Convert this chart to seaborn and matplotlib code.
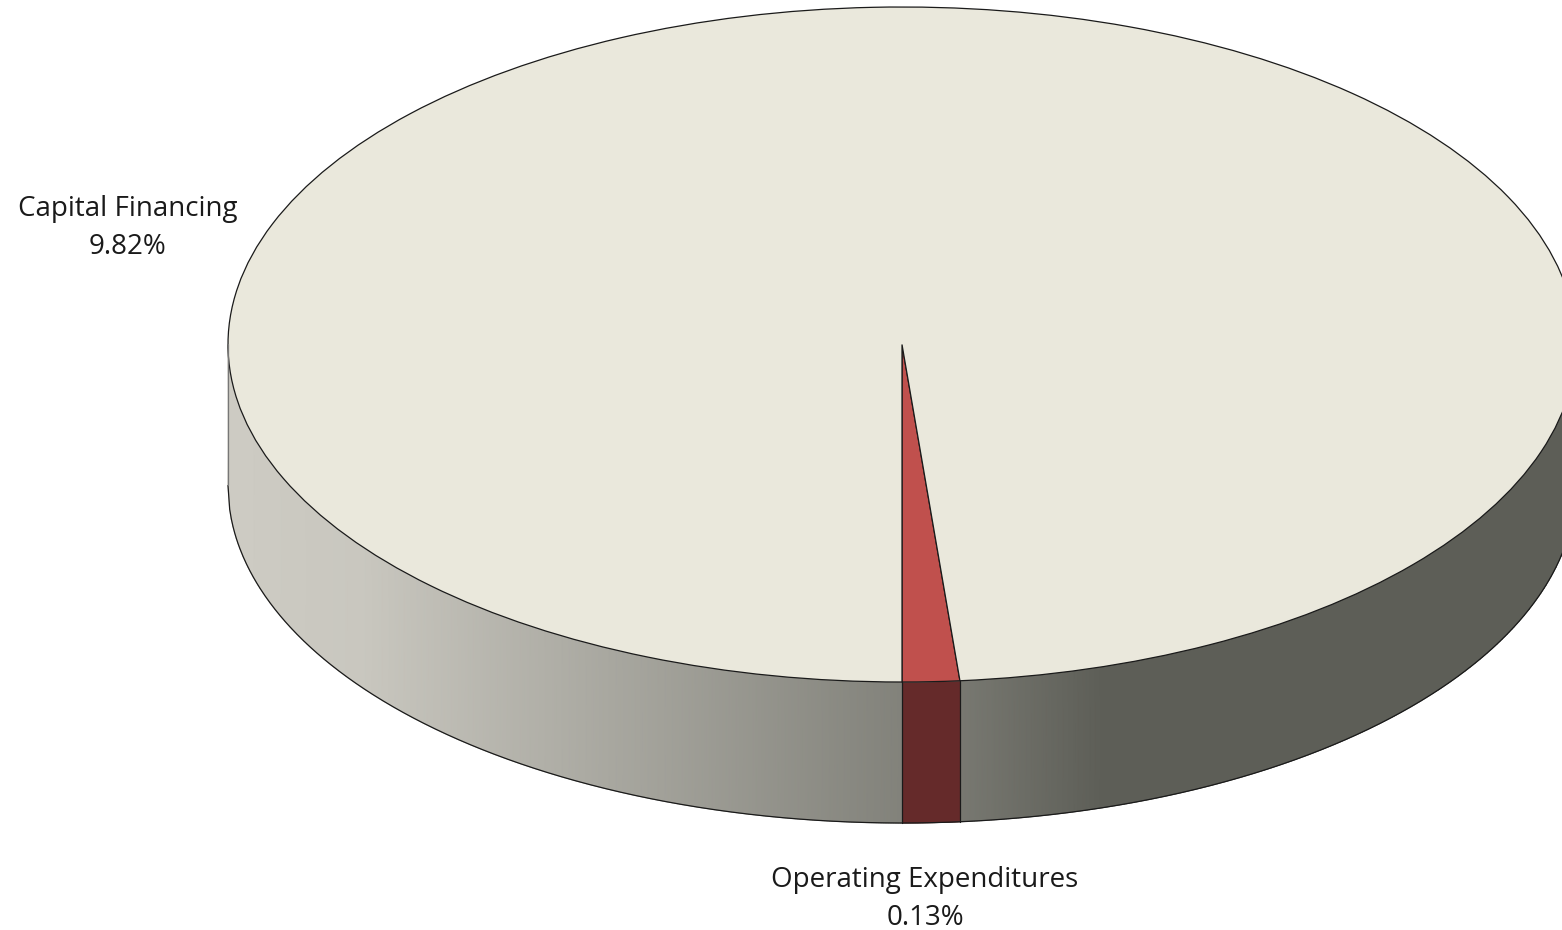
import numpy as np
import matplotlib
matplotlib.use('Agg')
import matplotlib.pyplot as plt
import seaborn as sns

# what the slices look like in the picture vs. what the labels claim
slice_names = ['Operating Expenditures', 'Everything else']
slice_shares = [1.37, 98.63]
slice_colors = ['#c0504d', '#eae8dc']
label_names = ['Capital Financing', 'Operating Expenditures']
label_values = ['9.82%', '0.13%']

# side wall shading, left to right
shade_x = [-1.0, -0.8, -0.6, -0.3, 0.0, 0.09, 0.3, 1.0]
shade_t = [0.0, 0.04, 0.2, 0.43, 0.67, 0.76, 1.0, 1.0]
wall_light = '#cdcbc3'
wall_dark = '#5d5e57'
wall_red = '#652a2a'
edge = '#1a1a1a'

sns.set_theme(style='white')
plt.rcParams['font.family'] = ['Open Sans', 'DejaVu Sans']

fig = plt.figure(figsize=(15.62, 9.30), dpi=100)
ax = fig.add_axes([0, 0, 1, 1])

# ellipse in pixels: centre (902, 344.5), radii 674 x 337.5, wall 141 deep
rx, ry, cx, cy, depth_px = 674, 337.5, 902, 344.5, 141
depth = depth_px / ry

ax.pie(slice_shares, colors=slice_colors, startangle=270, radius=1,
       wedgeprops={'edgecolor': edge, 'linewidth': 0.9, 'zorder': 3})
ax.set_aspect('auto')
ax.set_xlim(-cx / rx, (1562 - cx) / rx)
ax.set_ylim(-(930 - cy) / ry, cy / ry)
ax.axis('off')

# wall, front half of the disc
wall_cmap = sns.blend_palette([wall_light, wall_dark], as_cmap=True)
xs = np.linspace(-1, 1, 801)
rim = -np.sqrt(1 - xs ** 2)
X = np.vstack([xs, xs])
Y = np.vstack([rim, rim - depth])
C = np.vstack([np.interp(xs, shade_x, shade_t)] * 2)
ax.pcolormesh(X, Y, C, cmap=wall_cmap, vmin=0, vmax=1, shading='gouraud', zorder=1)

# red part of the wall
red_end = np.sin(np.deg2rad(slice_shares[0] * 3.6))
xr = np.linspace(0, red_end, 20)
rim_r = -np.sqrt(1 - xr ** 2)
ax.fill_between(xr, rim_r, rim_r - depth, color=wall_red, lw=0, zorder=2)
ax.plot([0, 0], [-1, -1 - depth], color=edge, lw=0.9, zorder=4)
ax.plot([red_end, red_end], [rim_r[-1], rim_r[-1] - depth], color=edge, lw=0.9, zorder=4)

ax.plot(xs, rim - depth, color=edge, lw=0.9, zorder=4)
ax.plot([-1, -1], [0, -depth], color='#777777', lw=0.9, zorder=4)

ax.text((128 - cx) / rx, (cy - 228) / ry, f'{label_names[0]}\n{label_values[0]}',
        ha='center', va='center', fontsize=20, color='#1a1a1a', linespacing=1.5)
ax.text((925 - cx) / rx, (cy - 899) / ry, f'{label_names[1]}\n{label_values[1]}',
        ha='center', va='center', fontsize=20, color='#1a1a1a', linespacing=1.5)

fig.savefig('out.png', dpi=100)
